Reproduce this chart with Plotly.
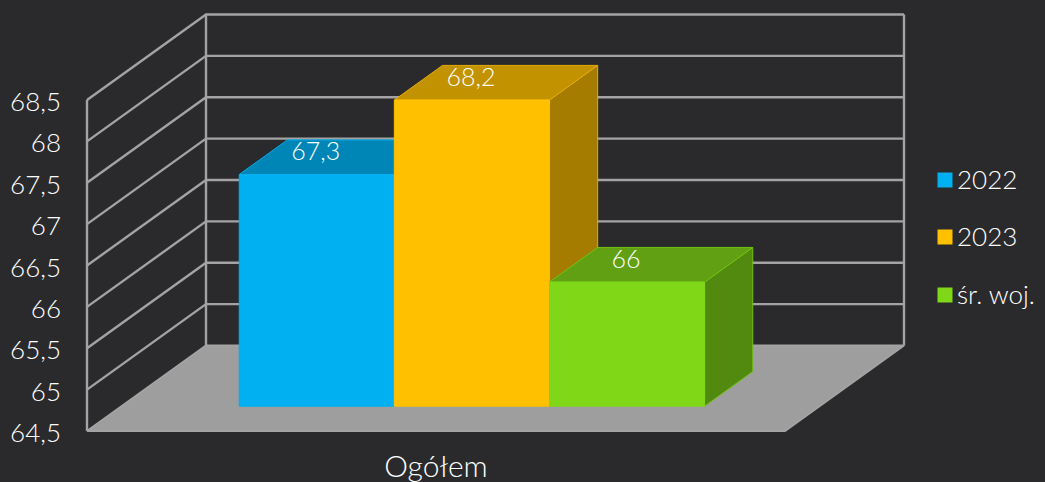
import plotly.graph_objects as go

# ---- data ----
categories = ["Ogółem"]
series_names = ["2022", "2023", "śr. woj."]
series_values = [67.3, 68.2, 66.0]
value_labels = ["67,3", "68,2", "66"]
tick_values = [64.5, 65, 65.5, 66, 66.5, 67, 67.5, 68, 68.5]
tick_labels = ["64,5", "65", "65,5", "66", "66,5", "67", "67,5", "68", "68,5"]

# ---- styles ----
FONT = "Lato"
BG = "#2a2a2c"
GRID = "#a3a3a3"
FLOOR = "#9e9e9e"
FACE = ["#00b0f0", "#ffc000", "#7fd718"]
TOP = ["#0086b6", "#c29200", "#61a012"]
SIDE = ["#0074a0", "#a67c00", "#528a10"]
EDGE = ["#00b0f0", "#e6ad00", "#72c215"]

# ---- oblique projection of the 3D box onto the 2D axes ----
W, H = 1045, 482
M_L, M_B = 62, 36
PX_PER_UNIT = 82.75
BASE = tick_values[0]
FRONT_X = 87
FRONT_W = 698
DEPTH_X = 119
DEPTH_V = 85.5 / PX_PER_UNIT
BAR_T0, BAR_T1 = 0.29, 0.695
BAR_SHIFT = 0.002
GAP = 0.75

y0 = BASE - ((H - M_B) - 431) / PX_PER_UNIT
y1 = BASE + 431 / PX_PER_UNIT


def project(u, value, t):
    return FRONT_X + u * FRONT_W + t * DEPTH_X, value + t * DEPTH_V


def poly(points, fill, line, width=1.0):
    pts = [project(*p) for p in points] + [project(*points[0])]
    return go.Scatter(
        x=[p[0] for p in pts], y=[p[1] for p in pts],
        mode="lines", fill="toself", fillcolor=fill,
        line=dict(color=line, width=width),
        hoverinfo="skip", showlegend=False,
    )


def seg(points, width=2.4):
    pts = [project(*p) for p in points]
    return go.Scatter(
        x=[p[0] for p in pts], y=[p[1] for p in pts],
        mode="lines", line=dict(color=GRID, width=width),
        hoverinfo="skip", showlegend=False,
    )


fig = go.Figure()
top_v = tick_values[-1]

# walls and gridlines
for v in tick_values[1:]:
    fig.add_trace(seg([(0, v, 0), (0, v, 1), (1, v, 1)]))
fig.add_trace(seg([(0, BASE, 0), (0, top_v, 0)]))
fig.add_trace(seg([(0, BASE, 1), (0, top_v, 1)]))
fig.add_trace(seg([(1, BASE, 1), (1, top_v, 1)]))

# floor
fig.add_trace(poly([(0, BASE, 0), (0, BASE, 1), (1, BASE, 1), (1, BASE, 0)], FLOOR, GRID, 2))

# bars
n = len(series_values)
bar_w = 1 / (n + 2 * GAP)
for i, v in enumerate(series_values):
    a = (GAP + i) * bar_w + BAR_SHIFT
    b = a + bar_w
    fig.add_trace(poly([(b, BASE, BAR_T0), (b, BASE, BAR_T1), (b, v, BAR_T1), (b, v, BAR_T0)], SIDE[i], EDGE[i]))
    fig.add_trace(poly([(a, v, BAR_T0), (a, v, BAR_T1), (b, v, BAR_T1), (b, v, BAR_T0)], TOP[i], EDGE[i]))
    fig.add_trace(poly([(a, BASE, BAR_T0), (a, v, BAR_T0), (b, v, BAR_T0), (b, BASE, BAR_T0)], FACE[i], FACE[i]))

# value labels sit above the bar's front top edge
label_x, label_y = [], []
for i, v in enumerate(series_values):
    px, py = project((GAP + i + 0.5) * bar_w + BAR_SHIFT, v, BAR_T0)
    label_x.append(px - 1)
    label_y.append(py + 20.5 / PX_PER_UNIT)
fig.add_trace(go.Scatter(
    x=label_x, y=label_y,
    mode="text", text=value_labels, textposition="middle center",
    textfont=dict(family=FONT, size=25, color="white", weight=300),
    hoverinfo="skip", showlegend=False,
))

# legend key
leg_x = 945
leg_y = [BASE + (431 - p) / PX_PER_UNIT for p in (180, 237, 295)]
fig.add_trace(go.Scatter(
    x=[leg_x] * n, y=leg_y, mode="markers",
    marker=dict(symbol="square", size=15, color=FACE, line=dict(width=0)),
    hoverinfo="skip", showlegend=False,
))
fig.add_trace(go.Scatter(
    x=[leg_x + 12] * n, y=[v - 2 / PX_PER_UNIT for v in leg_y], mode="text", text=series_names,
    textposition="middle right",
    textfont=dict(family=FONT, size=26, color="white", weight=300),
    hoverinfo="skip", showlegend=False,
))

fig.update_layout(
    width=W, height=H,
    margin=dict(l=M_L, r=0, t=0, b=M_B, pad=0),
    paper_bgcolor=BG, plot_bgcolor=BG,
    showlegend=False,
    xaxis=dict(
        range=[M_L, W], showgrid=False, zeroline=False, showline=False,
        tickmode="array", tickvals=[FRONT_X + FRONT_W / 2], ticktext=categories,
        tickfont=dict(family=FONT, size=30, color="white", weight=300),
        ticklen=0, automargin=False,
    ),
    yaxis=dict(
        range=[y0, y1], showgrid=False, zeroline=False, showline=False,
        tickmode="array", tickvals=tick_values, ticktext=tick_labels,
        tickfont=dict(family=FONT, size=26, color="white", weight=300),
        ticklen=0, automargin=False, ticklabelshift=2,
    ),
)

fig.write_html(
    "out.html",
    config={"displayModeBar": False},
    post_script="document.body.style.margin='0';document.body.style.background='#2a2a2c';document.body.style.overflow='hidden';",
)
